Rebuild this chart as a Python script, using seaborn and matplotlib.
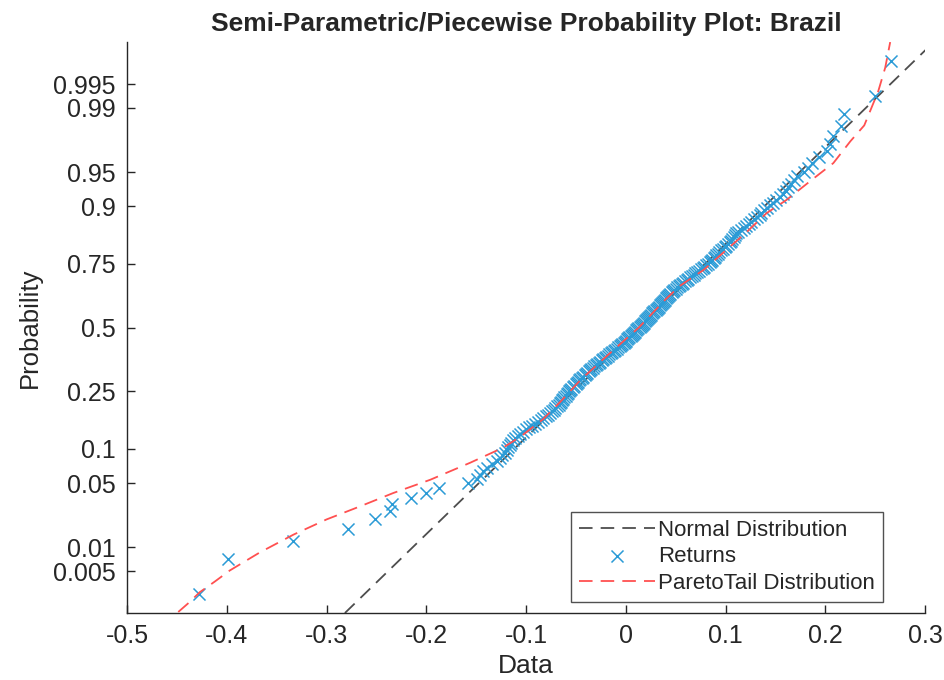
import numpy as np
import matplotlib
matplotlib.use("Agg")
import matplotlib.pyplot as plt
import seaborn as sns
from statistics import NormalDist

# sorted monthly returns (210 points)
returns = [
    -0.428, -0.399, -0.334, -0.278, -0.251, -0.236, -0.234, -0.215, -0.200, -0.187, -0.158,
    -0.149, -0.146, -0.143, -0.139, -0.134, -0.129, -0.126, -0.124, -0.121,
    -0.119, -0.118, -0.116, -0.115, -0.113, -0.111, -0.108, -0.106,
    -0.103, -0.100, -0.097, -0.094, -0.091, -0.088, -0.085, -0.083, -0.080, -0.078, -0.076,
    -0.074, -0.072, -0.071, -0.069, -0.067, -0.066, -0.065, -0.064, -0.063, -0.062, -0.060, -0.059,
    -0.058, -0.057, -0.056, -0.055, -0.053, -0.052, -0.050, -0.049, -0.048, -0.047, -0.046, -0.044, -0.043, -0.041,
    -0.040, -0.039, -0.037, -0.036, -0.035, -0.033, -0.032,
    -0.030, -0.029, -0.027, -0.026, -0.024, -0.023, -0.021, -0.020,
    -0.018, -0.017, -0.015, -0.014, -0.012, -0.011, -0.009, -0.008,
    -0.006, -0.005, -0.004, -0.002, -0.001, 0.000, 0.001, 0.002, 0.003,
    0.005, 0.006, 0.007, 0.008, 0.009, 0.010, 0.011, 0.012,
    0.014, 0.015, 0.016, 0.017, 0.018, 0.019, 0.020, 0.021,
    0.022, 0.023, 0.024, 0.025, 0.026, 0.027, 0.028, 0.030, 0.031,
    0.032, 0.033, 0.034, 0.035, 0.036, 0.037, 0.038, 0.039,
    0.040, 0.041, 0.042, 0.043, 0.044, 0.046, 0.047, 0.048,
    0.050, 0.051, 0.053, 0.054, 0.056, 0.057, 0.059,
    0.061, 0.062, 0.064, 0.066, 0.068, 0.069, 0.071,
    0.073, 0.075, 0.077, 0.078, 0.080, 0.082, 0.084,
    0.085, 0.086, 0.088, 0.089, 0.090, 0.092, 0.093,
    0.095, 0.097, 0.099, 0.100, 0.102,
    0.104, 0.105, 0.106, 0.108, 0.109, 0.110,
    0.112, 0.115, 0.118, 0.120, 0.123,
    0.125, 0.128, 0.131, 0.134,
    0.136, 0.139, 0.142, 0.145,
    0.148, 0.151, 0.155, 0.158, 0.161, 0.163, 0.166, 0.169, 0.172,
    0.179, 0.183, 0.187, 0.194, 0.202, 0.205, 0.208, 0.216, 0.219, 0.250, 0.266,
]

# fitted normal reference line
normal_mu = 0.0135
normal_sigma = 0.0977

# paretotail cdf
pareto_x = [-0.4486, -0.438, -0.427, -0.412, -0.397, -0.367, -0.333, -0.300, -0.266, -0.233, -0.196, -0.156,
            -0.123, -0.105, -0.083, -0.066, -0.045, -0.019, 0.013, 0.040, 0.054, 0.078,
            0.0995, 0.120, 0.141, 0.161, 0.186, 0.208, 0.225, 0.239, 0.253, 0.260, 0.265]
pareto_p = [0.00131, 0.0018, 0.00256, 0.0036, 0.00508, 0.00866, 0.01426, 0.02118, 0.02938, 0.04006, 0.0537, 0.07636,
            0.102, 0.1251, 0.166, 0.2148, 0.2912, 0.3821, 0.5, 0.6179, 0.67, 0.7291,
            0.791, 0.8413, 0.8869, 0.9115, 0.9406, 0.9591, 0.9756, 0.9838, 0.99379, 0.99702, 0.99874]

prob_ticks = [0.005, 0.01, 0.05, 0.1, 0.25, 0.5, 0.75, 0.9, 0.95, 0.99, 0.995]
prob_labels = ["0.005", "0.01", "0.05", "0.1", "0.25", "0.5", "0.75", "0.9", "0.95", "0.99", "0.995"]
x_ticks = [-0.5, -0.4, -0.3, -0.2, -0.1, 0, 0.1, 0.2, 0.3]
x_labels = ["-0.5", "-0.4", "-0.3", "-0.2", "-0.1", "0", "0.1", "0.2", "0.3"]

sns.set_style("ticks")
plt.rcParams['font.family'] = ['Liberation Sans', 'DejaVu Sans']

nd = NormalDist()
n = len(returns)
pos = (np.arange(1, n + 1) - 0.5) / n
z_ret = [nd.inv_cdf(p) for p in pos]
z_par = [nd.inv_cdf(p) for p in pareto_p]
z_lim = (-3.02, 3.02)
z_line = np.array(z_lim)
x_line = normal_mu + normal_sigma * z_line

fig = plt.figure(figsize=(9.44, 6.8), dpi=100)
ax = fig.add_axes([0.1345, 0.0985, 0.8455, 0.8395])

dash = (0, (7.5, 4.5))
sns.lineplot(x=x_line, y=z_line, ax=ax, color="#4d4d4d", linestyle=dash,
             linewidth=1.3, label="Normal Distribution", sort=False, estimator=None)
sns.scatterplot(x=returns, y=z_ret, ax=ax, marker="x", s=75, color="#2b9bd6",
                linewidth=1.1, label="Returns", zorder=3)
sns.lineplot(x=pareto_x, y=z_par, ax=ax, color="#ff5050", linestyle=dash,
             linewidth=1.3, label="ParetoTail Distribution", sort=False, estimator=None, zorder=4)

ax.set_xlim(-0.5, 0.3)
ax.set_ylim(*z_lim)
ax.set_xticks(x_ticks)
ax.set_xticklabels(x_labels)
ax.set_yticks([nd.inv_cdf(p) for p in prob_ticks])
ax.set_yticklabels(prob_labels)
ax.tick_params(direction="in", length=6, width=1, labelsize=18, colors="#262626", pad=8)
for s in ["left", "bottom"]:
    ax.spines[s].set_color("#262626")
    ax.spines[s].set_linewidth(1)
sns.despine(ax=ax)

ax.set_xlabel("Data", fontsize=19, color="#262626", labelpad=4)
ax.set_ylabel("Probability", fontsize=18.5, color="#262626", labelpad=8)
ax.set_title("Semi-Parametric/Piecewise Probability Plot: Brazil", fontsize=19,
             fontweight="bold", pad=8)

leg = ax.legend(loc="lower right", bbox_to_anchor=(0.947, 0.02), fontsize=16,
                frameon=True, fancybox=False, edgecolor="#262626", handlelength=3.4,
                handletextpad=0.15, borderpad=0.35, labelspacing=0.25, borderaxespad=0)
leg.get_frame().set_linewidth(1)

fig.savefig("out.png", dpi=100)
